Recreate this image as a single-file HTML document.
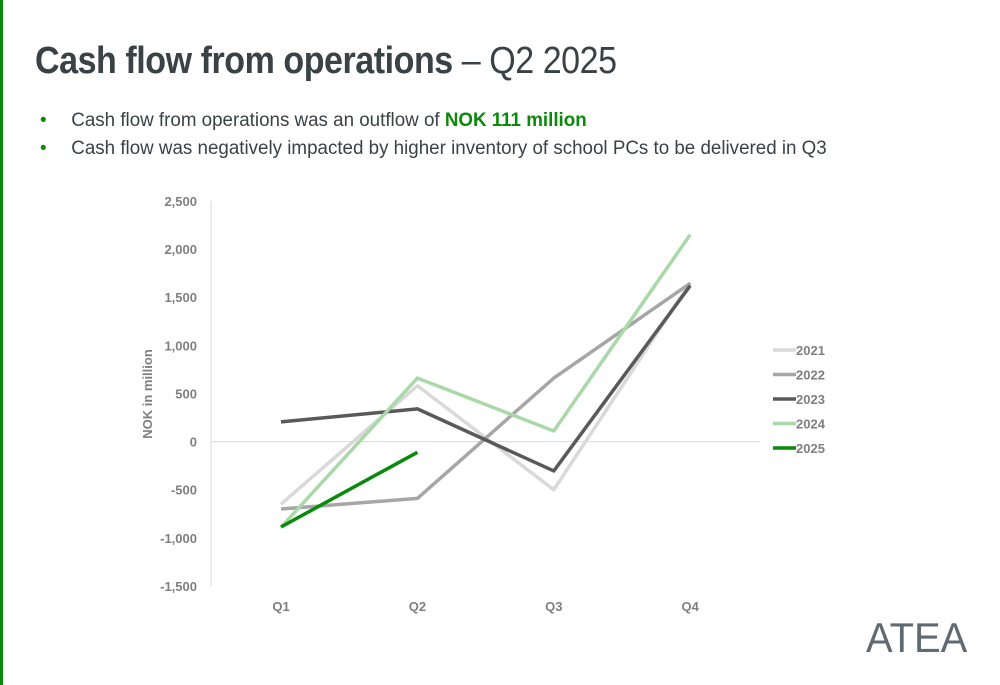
<!DOCTYPE html>
<html><head><meta charset="utf-8"><style>
body{margin:0;width:1000px;height:685px;background:#fff;font-family:"Liberation Sans",sans-serif;position:relative;overflow:hidden}
.bar{position:absolute;left:0;top:0;width:3px;height:685px;background:#0a8a0a}
h1{position:absolute;left:35px;top:40px;margin:0;font-size:38px;color:#3a4246;font-weight:bold;letter-spacing:-0.5px;white-space:nowrap;transform:scaleX(0.895);transform-origin:0 0}
h1 span{font-weight:normal}
ul{position:absolute;left:40px;top:110px;margin:0;padding:0;list-style:none;font-size:19px;color:#3a4246;transform:scaleX(0.988);transform-origin:0 0}
li{margin-bottom:6px;white-space:nowrap}
li:before{content:"•";color:#0a8a0a;margin-right:25px}
b.g{color:#0a8a0a}
.logo{position:absolute;left:866px;top:614px;font-size:42px;color:#5f6b70;letter-spacing:0px;transform:scaleX(0.95);transform-origin:0 0}
</style></head><body>
<div class="bar"></div>
<h1>Cash flow from operations <span>– Q2 2025</span></h1>
<ul>
<li>Cash flow from operations was an outflow of <b class="g">NOK 111 million</b></li>
<li>Cash flow was negatively impacted by higher inventory of school PCs to be delivered in Q3</li>
</ul>
<svg id="chart" width="1000" height="685" style="position:absolute;left:0;top:0"></svg>
<div class="logo">ATEA</div>
<script>
const categories=["Q1","Q2","Q3","Q4"];
const yTicks=[2500,2000,1500,1000,500,0,-500,-1000,-1500];
const seriesNames=["2021","2022","2023","2024","2025"];
const s2021=[-650,580,-500,1650];
const s2022=[-700,-590,660,1645];
const s2023=[205,340,-305,1620];
const s2024=[-890,660,110,2150];
const s2025=[-887,-111];
const allSeries=[s2021,s2022,s2023,s2024,s2025];
const colors=["#d9d9d9","#a6a6a6","#595959","#a9d8a9","#0a8a0a"];
const svg=document.getElementById('chart');const NS="http://www.w3.org/2000/svg";
const y=v=>441.6-v*0.09625;
const x=i=>281+i*136.4;
function mk(t,a){const e=document.createElementNS(NS,t);for(const k in a)e.setAttribute(k,a[k]);svg.appendChild(e);return e;}
const ax=mk('line',{x1:211,y1:201,x2:211,y2:586,stroke:'#d9d9d9'});


const zl=mk('line',{x1:211,y1:y(0),x2:760,y2:y(0),stroke:'#d9d9d9'});


yTicks.forEach(v=>{const t=mk('text',{x:197,y:y(v)+5,'text-anchor':'end','font-size':13,'font-weight':'bold',fill:'#7f7f7f'});t.textContent=v.toLocaleString('en-US');

});
categories.forEach((c,i)=>{const t=mk('text',{x:x(i),y:611,'text-anchor':'middle','font-size':13,'font-weight':'bold',fill:'#7f7f7f'});t.textContent=c;

});
const yt=mk('text',{x:152,y:394,'text-anchor':'middle','font-size':13,'font-weight':'bold',fill:'#7f7f7f',transform:'rotate(-90 152 394)'});yt.textContent="NOK in million";


allSeries.forEach((s,k)=>{const p=mk('polyline',{points:s.map((v,i)=>x(i)+','+y(v)).join(' '),fill:'none',stroke:colors[k],'stroke-width':3.5,'stroke-linejoin':'round'});


const ly=350+k*24.5;
const l=mk('line',{x1:773,y1:ly,x2:796,y2:ly,stroke:colors[k],'stroke-width':3.5});


const t=mk('text',{x:796,y:ly+5,'font-size':13,'font-weight':'bold',fill:'#7f7f7f'});t.textContent=seriesNames[k];

});
</script>
</body></html>
